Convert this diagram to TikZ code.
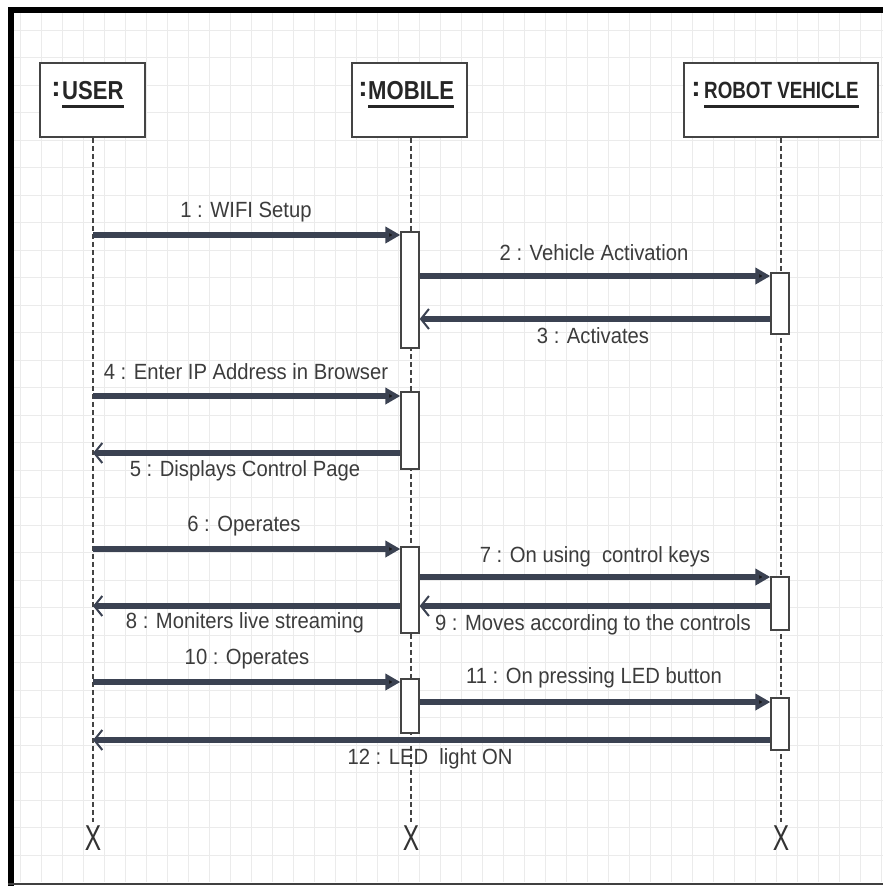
\documentclass[tikz,border=0pt]{standalone}
\usepackage{fontspec}
\setmainfont{Liberation Sans}
\newfontfamily\hdrfont[FakeStretch=0.85]{Liberation Sans}
\newfontfamily\robfont[FakeStretch=0.8]{Liberation Sans}
\newfontfamily\lblfont[FakeStretch=0.92]{Liberation Sans}
\usetikzlibrary{arrows.meta}
\definecolor{arr}{HTML}{3B4252}
\definecolor{txt}{HTML}{3C3C3C}
\definecolor{gridc}{HTML}{EBEBEB}
\definecolor{boxc}{HTML}{444444}
\begin{document}
\begin{tikzpicture}[x=1pt,y=-1pt,
  head/.style={draw=boxc, line width=1.6pt, fill=white, minimum height=74pt, inner sep=0pt},
  hname/.style={font=\hdrfont\bfseries\fontsize{26}{26}\selectfont, text=black!85, inner sep=0pt, anchor=base west},
  hcolon/.style={font=\bfseries\fontsize{28}{28}\selectfont, text=black!85, inner sep=0pt, anchor=base},
  uline/.style={line width=3pt, black!85},
  life/.style={draw=boxc, line width=1.3pt, dash pattern=on 5pt off 3pt},
  bar/.style={draw=boxc, line width=1.3pt, fill=white, minimum width=18pt, inner sep=0pt},
  call/.style={draw=arr, line width=6pt, -{Triangle[length=15pt,width=16pt,fill=black!90]}},
  ret/.style={draw=arr, line width=6pt, -{Straight Barb[length=8pt,width=20pt,line width=2pt]}},
  lbl/.style={font=\lblfont\fontsize{22}{24}\selectfont, text=txt, inner sep=0pt},
  xmark/.style={font=\fontsize{36}{36}\selectfont, text=black!80, inner sep=0pt}
]
\useasboundingbox (0,0) rectangle (883,886);
\fill[white] (0,0) rectangle (883,886);
% grid
\foreach \gx in {20,41,...,883} \draw[gridc, line width=0.7pt] (\gx,12) -- (\gx,882);
\foreach \gy in {30,57.5,...,882} \draw[gridc, line width=0.7pt] (12,\gy) -- (883,\gy);
% border
\draw[black, line width=6pt] (8,10) -- (883,10);
\draw[black, line width=6pt] (11,7) -- (11,886);
\draw[black!75, line width=2pt] (8,884) -- (883,884);

% headers
\node[head, minimum width=105pt] (user) at (92.5,100) {};
\node[head, minimum width=115pt] (mob) at (409.5,100) {};
\node[head, minimum width=194pt] (rob) at (781,100) {};
\node[hcolon] (uc) at (56,96) {:};
\node[hname] (un) at (62,99) {USER};
\node[hcolon] (mc) at (363,96) {:};
\node[hname] (mn) at (368,99) {MOBILE};
\node[hcolon] (rc) at (696,96) {:};
\node[hname, font=\robfont\bfseries\fontsize{23.5}{24}\selectfont] (rn) at (704,98) {ROBOT VEHICLE};
\draw[uline] ([yshift=-7pt]un.base west) -- ([yshift=-7pt]un.base east);
\draw[uline] ([yshift=-7pt]mn.base west) -- ([yshift=-7pt]mn.base east);
\draw[uline] ([yshift=-8pt]rn.base west) -- ([yshift=-8pt]rn.base east);

% destroy marks
\node[xmark] (ux) at (93,838) {\scalebox{0.68}[1]{X}};
\node[xmark] (mx) at (411,838) {\scalebox{0.68}[1]{X}};
\node[xmark] (rx) at (781,838) {\scalebox{0.68}[1]{X}};

% lifelines
\draw[life] (user.south -| ux) -- ([yshift=3pt]ux.north);
\draw[life] (mob.south -| mx) -- ([yshift=3pt]mx.north);
\draw[life] (rob.south -| rx) -- ([yshift=3pt]rx.north);

% activation bars
\node[bar, minimum height=116pt] (a1) at (410,290) {};
\node[bar, minimum height=61pt] (r1) at (780,303.5) {};
\node[bar, minimum height=77pt] (a2) at (410,430.5) {};
\node[bar, minimum height=86pt] (a3) at (410,590) {};
\node[bar, minimum height=53pt] (r2) at (780,603.5) {};
\node[bar, minimum height=54pt] (a4) at (410,706) {};
\node[bar, minimum height=52pt] (r3) at (780,724) {};

% message rows
\coordinate (m1) at (93,235);
\coordinate (m2) at (0,276);
\coordinate (m3) at (0,319);
\coordinate (m4) at (93,396);
\coordinate (m5) at (93,453);
\coordinate (m6) at (93,549);
\coordinate (m7) at (0,577);
\coordinate (m8) at (93,606);
\coordinate (m9) at (0,606);
\coordinate (m10) at (93,682);
\coordinate (m11) at (0,702);
\coordinate (m12) at (93,740);

\draw[call] (m1) -- (a1.west |- m1);
\draw[call] (a1.east |- m2) -- (r1.west |- m2);
\draw[ret] (r1.west |- m3) -- (a1.east |- m3);
\draw[call] (m4) -- (a2.west |- m4);
\draw[ret] (a2.west |- m5) -- (m5);
\draw[call] (m6) -- (a3.west |- m6);
\draw[call] (a3.east |- m7) -- (r2.west |- m7);
\draw[ret] (a3.west |- m8) -- (m8);
\draw[ret] (r2.west |- m9) -- (a3.east |- m9);
\draw[call] (m10) -- (a4.west |- m10);
\draw[call] (a4.east |- m11) -- (r3.west |- m11);
\draw[ret] (r3.west |- m12) -- (m12);

% labels
\node[lbl] (l1) at (246,212) {1 : WIFI Setup};
\node[lbl] (l2) at (594,253) {2 : Vehicle Activation};
\node[lbl] (l3) at (593,336) {3 : Activates};
\node[lbl] (l4) at (246,372) {4 : Enter IP Address in Browser};
\node[lbl] (l5) at (245,471) {5 : Displays Control Page};
\node[lbl] (l6) at (244,526) {6 : Operates};
\node[lbl] (l7) at (595,557) {7 : On using\ \ control keys};
\node[lbl] (l8) at (245,623) {8 : Moniters live streaming};
\node[lbl] (l9) at (593,625) {9 : Moves according to the controls};
\node[lbl] (l10) at (247,659) {10 : Operates};
\node[lbl] (l11) at (594,678) {11 : On pressing LED button};
\node[lbl] (l12) at (430,759) {12 : LED\ \ light ON};
\end{tikzpicture}
\end{document}
